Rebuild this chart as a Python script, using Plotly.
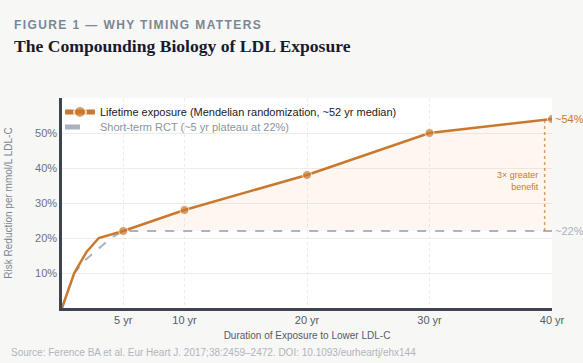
import plotly.graph_objects as go

years_life = [0, 1, 2, 3, 5, 10, 20, 30, 40]
risk_life = [0, 10, 16, 20, 22, 28, 38, 50, 54]
marker_life = [0, 0, 0, 0, 9, 9, 9, 9, 9]

years_rct = [0, 1, 2, 3, 4, 5, 40]
risk_rct = [0, 10, 14, 17, 20, 22, 22]

fill_years = [5, 10, 20, 30, 40]
fill_rct = [22, 22, 22, 22, 22]
fill_life = [22, 28, 38, 50, 54]

x_ticks = [5, 10, 20, 30, 40]
x_labels = ["5 yr", "10 yr", "20 yr", "30 yr", "40 yr"]
y_ticks = [10, 20, 30, 40, 50]
y_labels = ["10%", "20%", "30%", "40%", "50%"]

ORANGE = "#c8792f"
GRAY = "#aab3c0"

W, H = 583, 363
ML, MR, MT, MB = 62, 31, 98, 55
PW, PH = W - ML - MR, H - MT - MB

def px_x(p):
    return (p - ML) / PW

def px_y(p):
    return (H - MB - p) / PH

fig = go.Figure()
fig.add_trace(go.Scatter(x=fill_years, y=fill_rct, mode="lines", line=dict(width=0),
                         showlegend=False, hoverinfo="skip"))
fig.add_trace(go.Scatter(x=fill_years, y=fill_life, mode="lines", line=dict(width=0),
                         fill="tonexty", fillcolor="rgba(240,150,80,0.08)",
                         showlegend=False, hoverinfo="skip"))
fig.add_trace(go.Scatter(x=years_rct, y=risk_rct, mode="lines",
                         line=dict(color=GRAY, width=2, dash="dash"), legend="legend2",
                         name="<span style='color:#8a94a3'>Short-term RCT (~5 yr plateau at 22%)</span>"))
fig.add_trace(go.Scatter(x=years_life, y=risk_life, mode="lines+markers",
                         line=dict(color=ORANGE, width=2.5), legend="legend",
                         marker=dict(color=ORANGE, size=marker_life),
                         name="<span style='color:#1a1a1a'>Lifetime exposure (Mendelian randomization, ~52 yr median)</span>"))

fig.add_shape(type="line", x0=39.4, x1=39.4, y0=22, y1=54, xref="x", yref="y",
              line=dict(color=ORANGE, width=1.5, dash="dot"), opacity=0.7)

fig.add_annotation(x=40, y=54, xref="x", yref="y", text="~54%", showarrow=False,
                   xanchor="left", xshift=1, font=dict(color=ORANGE, size=11))
fig.add_annotation(x=40, y=22, xref="x", yref="y", text="~22%", showarrow=False,
                   xanchor="left", xshift=1, font=dict(color=GRAY, size=11))
fig.add_annotation(x=39.1, y=36.4, xref="x", yref="y", text="3× greater<br>benefit",
                   showarrow=False, xanchor="right", align="right",
                   font=dict(color=ORANGE, size=9))

fig.add_annotation(xref="paper", yref="paper", x=px_x(12), y=px_y(25),
                   text="<b><span style='letter-spacing:1.4px'>FIGURE 1 — WHY TIMING MATTERS</span></b>",
                   showarrow=False, xanchor="left", yanchor="middle",
                   font=dict(family="Liberation Sans, Arial, sans-serif", size=12, color="#7b8797"))
fig.add_annotation(xref="paper", yref="paper", x=px_x(12), y=px_y(46),
                   text="<b>The Compounding Biology of LDL Exposure</b>", showarrow=False,
                   xanchor="left", yanchor="middle",
                   font=dict(family="Liberation Serif, Georgia, serif", size=17.6, color="#1a1a2e"))
fig.add_annotation(xref="paper", yref="paper", x=px_x(9), y=px_y(352),
                   text="Source: Ference BA et al. Eur Heart J. 2017;38:2459–2472. DOI: 10.1093/eurheartj/ehx144",
                   showarrow=False, xanchor="left", yanchor="middle",
                   font=dict(size=10, color="#b0b5bc"))

legend_common = dict(xanchor="left", yanchor="middle", bgcolor="rgba(0,0,0,0)",
                     font=dict(size=11), itemsizing="constant", itemwidth=30)

fig.update_layout(
    width=W, height=H,
    margin=dict(l=ML, r=MR, t=MT, b=MB, autoexpand=False),
    paper_bgcolor="#f7f7f5",
    plot_bgcolor="#ffffff",
    font=dict(family="Liberation Sans, Arial, sans-serif", color="#6b7280", size=11),
    showlegend=True,
    legend=dict(x=px_x(60), y=px_y(112), **legend_common),
    legend2=dict(x=px_x(60), y=px_y(127), **legend_common),
    xaxis=dict(range=[0, 40], tickvals=x_ticks, ticktext=x_labels, automargin=False,
               showgrid=True, gridcolor="#ebebeb", griddash="dot", gridwidth=1,
               showline=True, linecolor="#3d4450", linewidth=2.5, zeroline=False,
               ticks="", tickfont=dict(size=11, color="#555b66"),
               title=dict(text="Duration of Exposure to Lower LDL-C",
                          font=dict(size=10, color="#555b66"), standoff=8)),
    yaxis=dict(range=[0, 60], tickvals=y_ticks, ticktext=y_labels, automargin=False,
               showgrid=True, gridcolor="#efece6", gridwidth=1,
               showline=True, linecolor="#3d4450", linewidth=2.5, zeroline=False,
               ticks="", tickfont=dict(size=11, color="#6b7280"),
               title=dict(text="Risk Reduction per mmol/L LDL-C",
                          font=dict(size=10, color="#7a8594"), standoff=21)),
)

fig.write_html("out.html", config={"displayModeBar": False},
               post_script="document.body.style.margin='0';document.body.style.background='#f7f7f5';")
